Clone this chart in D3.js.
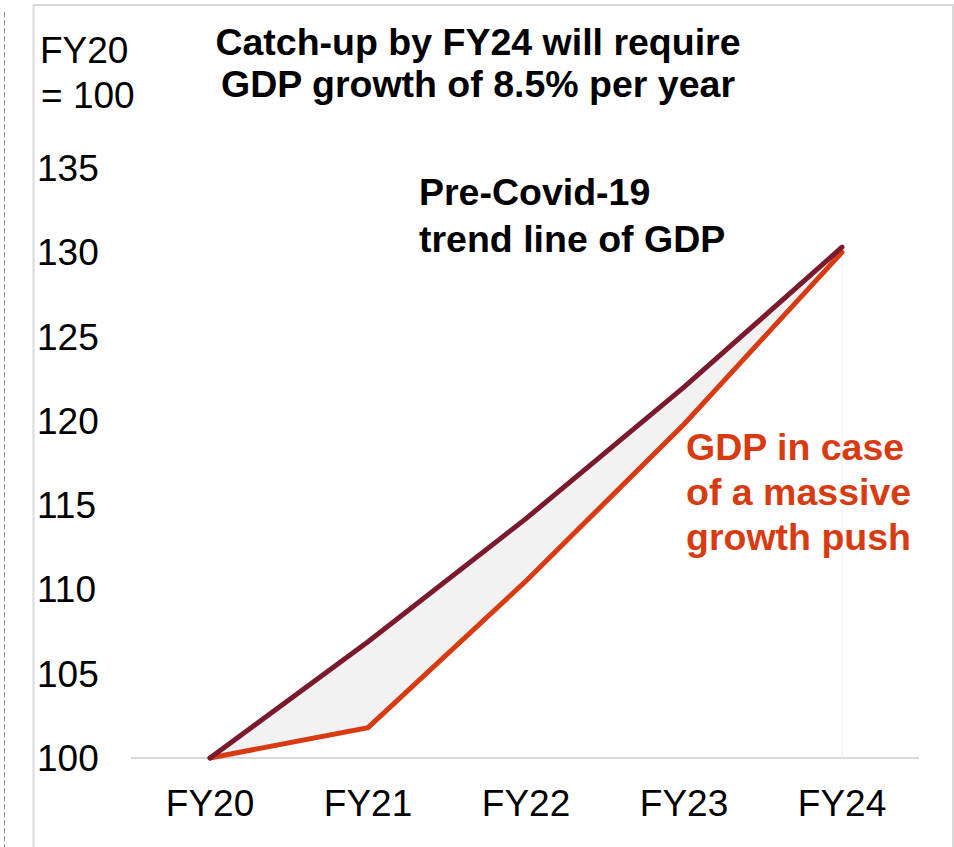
<!DOCTYPE html>
<html><head><meta charset="utf-8">
<script src="https://cdn.jsdelivr.net/npm/d3@7"></script>
<style>
html,body{margin:0;padding:0;background:#fff;}
svg{display:block;font-family:"Liberation Sans",Arial,sans-serif;}
</style></head>
<body><svg id="c" width="954" height="847"></svg>
<script>
const categories = ["FY20","FY21","FY22","FY23","FY24"];
const preCovidTrend = [100, 106.9, 114.2, 122.0, 130.3];
const massivePush = [100, 101.8, 110.5, 119.8, 130.0];
const yTicks = [100,105,110,115,120,125,130,135];
const titleLines = ["Catch-up by FY24 will require","GDP growth of 8.5% per year"];
const unitLines = ["FY20","= 100"];
const trendLabel = ["Pre-Covid-19","trend line of GDP"];
const pushLabel = ["GDP in case","of a massive","growth push"];

const svg = d3.select("#c");
const W = 954, H = 847;

svg.append("line").attr("x1",4.5).attr("x2",4.5).attr("y1",12).attr("y2",H)
  .attr("stroke","#8c8c8c").attr("stroke-width",1).attr("stroke-dasharray","5,3");
svg.append("path").attr("d",`M33.5,${H} V5 H953 V${H}`).attr("fill","none")
  .attr("stroke","#d9d9d9").attr("stroke-width",2);

const x = d3.scaleBand().domain(categories).range([131,921]);
const y = d3.scaleLinear().domain([100,135]).range([758,168]);
const cx = d => x(d) + x.bandwidth()/2;

svg.append("line").attr("x1",131).attr("x2",919).attr("y1",y(100)).attr("y2",y(100))
  .attr("stroke","#d9d9d9").attr("stroke-width",2);
svg.append("line").attr("x1",cx("FY24")).attr("x2",cx("FY24")).attr("y1",y(130)).attr("y2",y(100))
  .attr("stroke","#f0f0f0").attr("stroke-width",1);

svg.append("g").selectAll("text").data(yTicks).join("text")
  .attr("x",37).attr("y",d=>y(d)).attr("dy","0.35em")
  .attr("font-size",37).attr("fill","#000").text(d=>d);

svg.append("g").selectAll("text").data(categories).join("text")
  .attr("x",d=>cx(d)).attr("y",803).attr("dy","0.35em").attr("text-anchor","middle")
  .attr("font-size",37).attr("fill","#000").text(d=>d);

const rows = categories.map((c,i)=>({c, a:preCovidTrend[i], b:massivePush[i]}));
svg.append("path").datum(rows)
  .attr("d", d3.area().x(d=>cx(d.c)).y0(d=>y(d.b)).y1(d=>y(d.a)))
  .attr("fill","#f2f2f2");

const line = key => d3.line().x(d=>cx(d.c)).y(d=>y(d[key]));
svg.append("path").datum(rows).attr("d",line("b")).attr("fill","none")
  .attr("stroke","#d83b12").attr("stroke-width",5).attr("stroke-linejoin","miter").attr("stroke-linecap","round");
svg.append("path").datum(rows).attr("d",line("a")).attr("fill","none")
  .attr("stroke","#7b1a2c").attr("stroke-width",5).attr("stroke-linejoin","miter").attr("stroke-linecap","round");

svg.append("g").selectAll("text").data(unitLines).join("text")
  .attr("x",(d,i)=> i===0?40:41).attr("y",(d,i)=>50+i*45).attr("dy","0.35em")
  .attr("font-size",37).attr("fill","#000").text(d=>d);

svg.append("g").selectAll("text").data(titleLines).join("text")
  .attr("x",478).attr("y",(d,i)=>42+i*42).attr("dy","0.35em").attr("text-anchor","middle")
  .attr("font-size",37.5).attr("font-weight","bold").attr("fill","#000").text(d=>d);

svg.append("g").selectAll("text").data(trendLabel).join("text")
  .attr("x",419).attr("y",(d,i)=>192+i*47).attr("dy","0.35em")
  .attr("font-size",37.5).attr("font-weight","bold").attr("fill","#000").text(d=>d);

svg.append("g").selectAll("text").data(pushLabel).join("text")
  .attr("x",686).attr("y",(d,i)=>447+i*45).attr("dy","0.35em")
  .attr("font-size",37.5).attr("font-weight","bold").attr("fill","#d83b12").text(d=>d);
</script></body></html>
